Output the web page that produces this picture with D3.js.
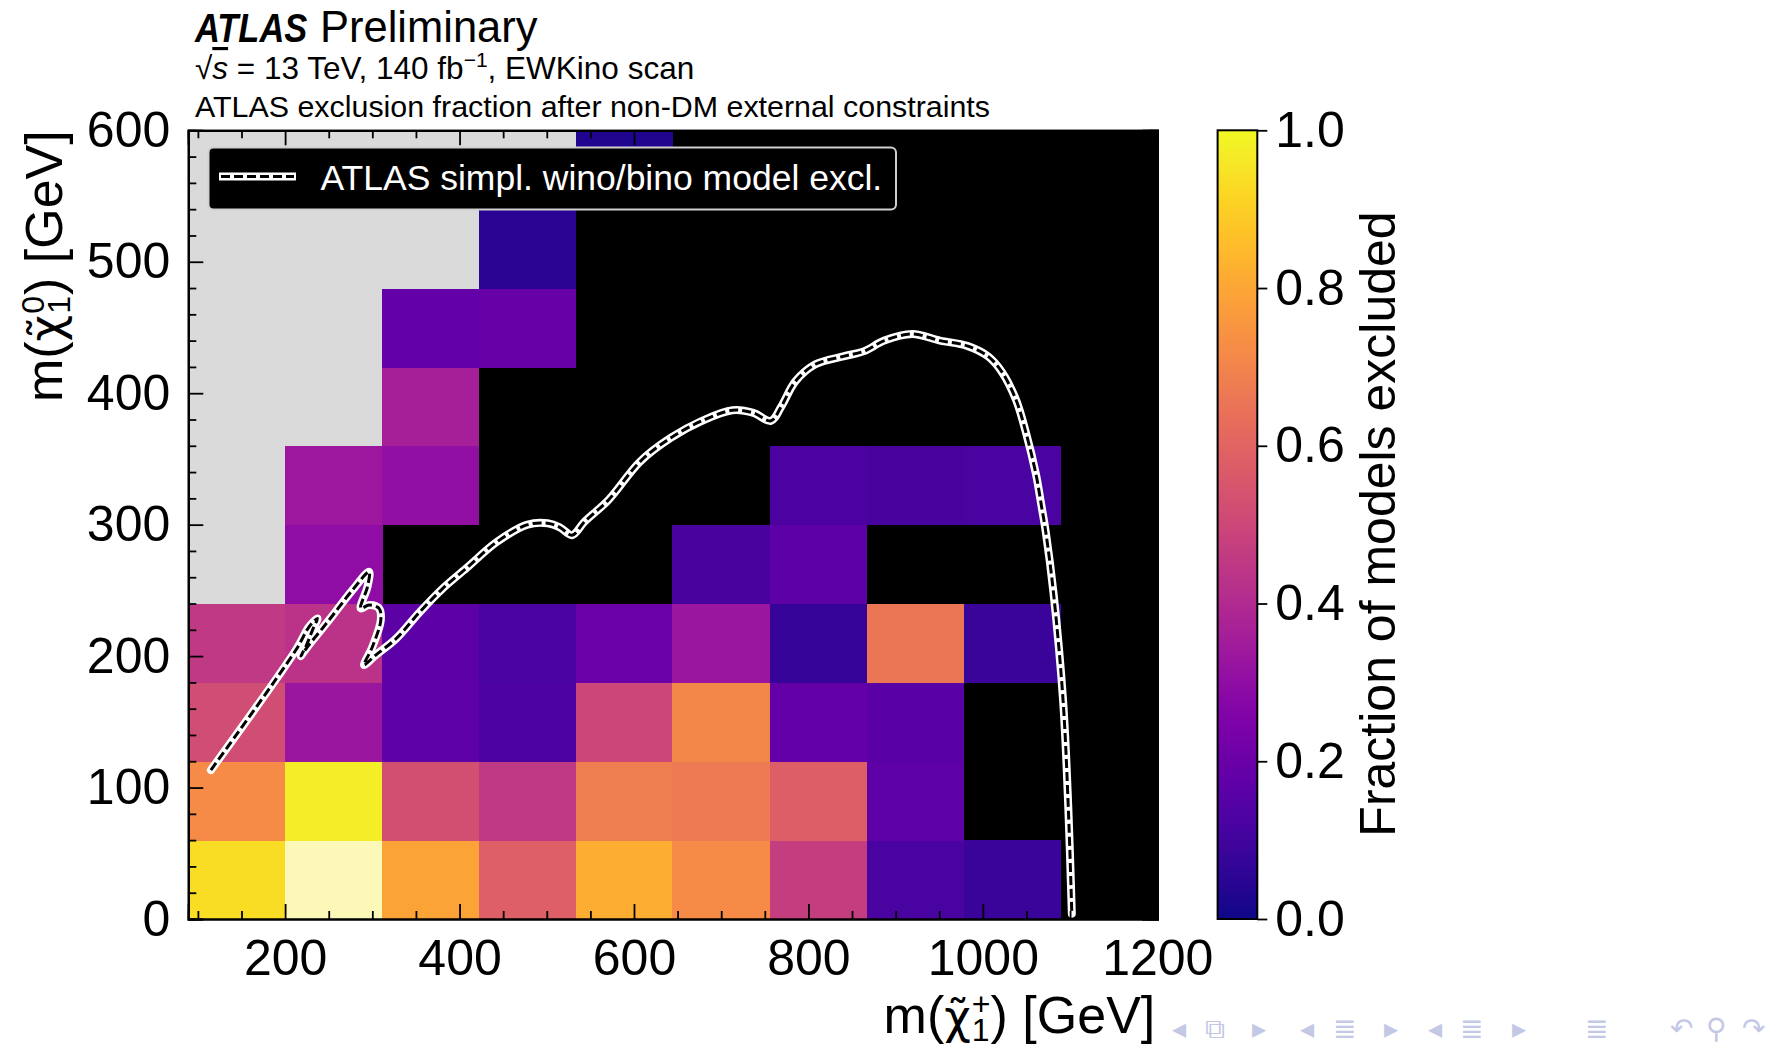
<!DOCTYPE html>
<html><head><meta charset="utf-8">
<script src="https://cdn.jsdelivr.net/npm/d3@7"></script>
<style>
body{margin:0;background:#fff;}
svg{display:block;font-family:"Liberation Sans",Arial,Helvetica,sans-serif;}
</style>
</head><body>
<svg id="chart" width="1776" height="1050"></svg>
<script>
// ---------------- data ----------------
const xEdges = [89, 200, 311, 422, 533, 644, 756, 867, 978, 1089, 1200];   // m(chargino) bin edges [GeV]
const yEdges = [0, 60, 120, 180, 240, 300, 360, 420, 480, 540, 600];         // m(neutralino) bin edges [GeV]
// fraction of models excluded; rows from bottom (0-60 GeV) to top; null = no models, "F" = m(chi0) > m(chi+)
const row0 = [0.93, 1.00, 0.79, 0.585, 0.82, 0.72, 0.47, 0.12, 0.085, null];
const row1 = [0.72, 0.97, 0.53, 0.45, 0.68, 0.67, 0.58, 0.17, null, null];
const row2 = [0.52, 0.33, 0.17, 0.125, 0.50, 0.71, 0.18, 0.16, null, null];
const row3 = [0.45, 0.43, 0.165, 0.12, 0.20, 0.33, 0.075, 0.66, 0.085, null];
const row4 = ["F", 0.30, null, null, null, 0.115, 0.165, null, null, null];
const row5 = ["F", 0.335, 0.305, null, null, null, 0.125, 0.115, 0.118, null];
const row6 = ["F", "F", 0.36, null, null, null, null, null, null, null];
const row7 = ["F", "F", 0.185, 0.19, null, null, null, null, null, null];
const row8 = ["F", "F", "F", 0.05, null, null, null, null, null, null];
const row9 = ["F", "F", "F", "F", 0.03, null, null, null, null, null];
const fractionRows = [row0, row1, row2, row3, row4, row5, row6, row7, row8, row9];

// ATLAS simplified wino/bino model exclusion contour [m(chi+), m(chi0)]
const contour = [[114.9,113.3],[212.3,204.6],[227.5,222.3],[237.1,228.7],[231.4,219.8],[223.7,207.1],[218.0,200.0],
 [225.7,207.1],[250.4,227.4],[277.2,250.2],[296.3,264.1],[294.4,252.7],[286.7,236.3],[296.3,238.8],[307.7,236.3],
 [309.7,227.4],[300.1,207.1],[290.5,193.2],[303.9,200.8],[326.8,213],[355,234],[380,251],[408,267],[443,287],
 [478,300],[501,301],[515,298],[529,292],[543,302],[571,319],[607,348],[642,366],[678,379],[713,387],[737,385],
 [757,379],[769,390],[785,409],[808,422],[840,428],[864,432],[887,440],[919,445],[951,440],[982,436],[1006,428],
 [1022,416],[1038,395],[1049,371],[1061,338],[1067,315],[1072,295],[1081,248],[1092,166],[1098,84],[1102,4]];

const xMajorTicks = [200, 400, 600, 800, 1000, 1200];
const yMajorTicks = [0, 100, 200, 300, 400, 500, 600];
const cbTicks = [0, 0.2, 0.4, 0.6, 0.8, 1.0];
const legendLabel = "ATLAS simpl. wino/bino model excl.";
const colorbarLabel = "Fraction of models excluded";

// ---------------- layout ----------------
const svg = d3.select("#chart");
const L = 188.3, R = 1157.3, T = 130.3, B = 919;
const x = d3.scaleLinear().domain([xEdges[0], 1200]).range([L, R]);
const y = d3.scaleLinear().domain([0, 600]).range([B, T]);
const color = v => v >= 1 ? "#fcf9b8" : d3.interpolatePlasma(v);
const GREY = "#dadada";

// plot background (no models)
svg.append("rect").attr("x", L).attr("y", T).attr("width", R - L).attr("height", B - T).attr("fill", "#000");

const cells = [];
fractionRows.forEach((row, j) => row.forEach((v, i) => {
  if (v !== null) cells.push({i, j, v});
}));
svg.append("g").attr("shape-rendering", "crispEdges").selectAll("rect").data(cells).join("rect")
  .attr("x", d => x(xEdges[d.i]))
  .attr("y", d => y(yEdges[d.j + 1]))
  .attr("width", d => x(xEdges[d.i + 1]) - x(xEdges[d.i]) + 0.6)
  .attr("height", d => y(yEdges[d.j]) - y(yEdges[d.j + 1]) + 0.6)
  .attr("fill", d => d.v === "F" ? GREY : color(d.v));

// clip
svg.append("clipPath").attr("id", "clip").append("rect")
  .attr("x", L).attr("y", T).attr("width", R - L).attr("height", B - T);

// contour
const line = d3.line().x(d => x(d[0])).y(d => y(d[1])).curve(d3.curveCatmullRom.alpha(0.5));
const cg = svg.append("g").attr("clip-path", "url(#clip)");
cg.append("path").attr("d", line(contour)).attr("fill", "none").attr("stroke", "#fff")
  .attr("stroke-width", 8).attr("stroke-linejoin", "round").attr("stroke-linecap", "round");
cg.append("path").attr("d", line(contour)).attr("fill", "none").attr("stroke", "#000")
  .attr("stroke-width", 3).attr("stroke-dasharray", "9,4");

// ---------------- axes ----------------
const majorLen = 15, minorLen = 8;
const xMinor = d3.range(100, 1201, 50).filter(v => !xMajorTicks.includes(v));
const yMinor = d3.range(0, 601, 20).filter(v => !yMajorTicks.includes(v));

function styleAxis(g) {
  g.selectAll("path.domain").attr("stroke", "#000").attr("stroke-width", 2.2);
  g.selectAll(".tick line").attr("stroke", "#000").attr("stroke-width", 1.8);
  g.selectAll(".tick text").attr("font-size", 50).attr("fill", "#000")
    .attr("font-family", "'Liberation Sans',Arial,sans-serif");
}
// bottom
svg.append("g").attr("transform", `translate(0,${B})`)
  .call(d3.axisBottom(x).tickValues(xMinor).tickSize(-minorLen).tickFormat(""))
  .call(styleAxis);
svg.append("g").attr("transform", `translate(0,${B})`)
  .call(d3.axisBottom(x).tickValues(xMajorTicks).tickSize(-majorLen).tickPadding(20).tickFormat(d3.format("d")))
  .call(styleAxis);
// top
svg.append("g").attr("transform", `translate(0,${T})`)
  .call(d3.axisTop(x).tickValues(xMinor).tickSize(-minorLen).tickFormat("")).call(styleAxis);
svg.append("g").attr("transform", `translate(0,${T})`)
  .call(d3.axisTop(x).tickValues(xMajorTicks).tickSize(-majorLen).tickFormat("")).call(styleAxis);
// left
svg.append("g").attr("transform", `translate(${L},0)`)
  .call(d3.axisLeft(y).tickValues(yMinor).tickSize(-minorLen).tickFormat("")).call(styleAxis);
svg.append("g").attr("transform", `translate(${L},0)`)
  .call(d3.axisLeft(y).tickValues(yMajorTicks).tickSize(-majorLen).tickPadding(18).tickFormat(d3.format("d")))
  .call(styleAxis);
// right
svg.append("g").attr("transform", `translate(${R},0)`)
  .call(d3.axisRight(y).tickValues(yMinor).tickSize(-minorLen).tickFormat("")).call(styleAxis);
svg.append("g").attr("transform", `translate(${R},0)`)
  .call(d3.axisRight(y).tickValues(yMajorTicks).tickSize(-majorLen).tickFormat("")).call(styleAxis);

// ---------------- legend ----------------
const lg = svg.append("g");
lg.append("rect").attr("x", 208.5).attr("y", 147.5).attr("width", 687.5).attr("height", 62)
  .attr("rx", 5).attr("fill", "#000").attr("stroke", "#d0d0d0").attr("stroke-width", 2);
lg.append("line").attr("x1", 219).attr("x2", 296).attr("y1", 176.5).attr("y2", 176.5)
  .attr("stroke", "#fff").attr("stroke-width", 8);
lg.append("line").attr("x1", 221).attr("x2", 294).attr("y1", 176.5).attr("y2", 176.5)
  .attr("stroke", "#000").attr("stroke-width", 3).attr("stroke-dasharray", "9,4");
lg.append("text").attr("x", 320.5).attr("y", 189.5).attr("font-size", 35.5).attr("fill", "#fff")
  .text(legendLabel);

// ---------------- colorbar ----------------
const cbL = 1217.6, cbR = 1257.3;
const cy = d3.scaleLinear().domain([0, 1]).range([B, T]);
const grad = svg.append("defs").append("linearGradient").attr("id", "plasma")
  .attr("x1", 0).attr("y1", 1).attr("x2", 0).attr("y2", 0);
d3.range(0, 1.0001, 0.02).forEach(t => grad.append("stop").attr("offset", t).attr("stop-color", d3.interpolatePlasma(t)));
svg.append("rect").attr("x", cbL).attr("y", T).attr("width", cbR - cbL).attr("height", B - T)
  .attr("fill", "url(#plasma)").attr("stroke", "#000").attr("stroke-width", 2);
svg.append("g").attr("transform", `translate(${cbR},0)`)
  .call(d3.axisRight(cy).tickValues(cbTicks).tickSize(10).tickPadding(8).tickFormat(d3.format(".1f")))
  .call(styleAxis).call(g => g.select("path.domain").remove());
svg.append("text").attr("transform", `translate(1395,524) rotate(-90)`).attr("text-anchor", "middle")
  .attr("font-size", 50).attr("fill", "#000").text(colorbarLabel);

// ---------------- navigation symbols (beamer) ----------------
const nav = svg.append("g").attr("fill", "#c3c8e4").attr("font-family", "DejaVu Sans").attr("font-size", 28);
[["◂",1172],["⧉",1205],["▸",1252],["◂",1300],["≣",1333],["▸",1384],
 ["◂",1428],["≣",1460],["▸",1512],["≣",1585],["↶",1670],["⚲",1706],["↷",1742]].forEach(([s, px]) =>
  nav.append("text").attr("x", px).attr("y", 1038).text(s));

// ---------------- axis titles ----------------
function massLabel(sel, sup) {
  sel.append("tspan").text("m(");
  sel.append("tspan").attr("font-family", "'DejaVu Sans'").attr("font-size", 46).text("χ\u0303");
  sel.append("tspan").attr("font-size", 32).attr("dx", 1).attr("dy", -18).text(sup);
  sel.append("tspan").attr("font-size", 32).attr("dx", sup === "+" ? -18.7 : -17.8).attr("dy", 26).text("1");
  sel.append("tspan").attr("dx", 1).attr("dy", -8).text(") [GeV]");
}
const xt = svg.append("text").attr("x", R - 2).attr("y", 1033).attr("text-anchor", "end")
  .attr("font-size", 52).attr("fill", "#000");
massLabel(xt, "+");
const yt = svg.append("text").attr("transform", `translate(62,${T}) rotate(-90)`).attr("text-anchor", "end")
  .attr("font-size", 52).attr("fill", "#000");
massLabel(yt, "0");

// ---------------- header ----------------
svg.append("text").attr("transform", "translate(195,41.5) scale(0.84,1)").attr("font-size", 41)
  .attr("font-weight", "bold").attr("font-style", "italic").text("ATLAS");
svg.append("text").attr("x", 320).attr("y", 41.5).attr("font-size", 43.5).text("Preliminary");
const l2 = svg.append("text").attr("x", 195).attr("y", 79).attr("font-size", 31.5);
l2.append("tspan").text("√");
l2.append("tspan").attr("font-style", "italic").attr("text-decoration", "overline").text("s");
l2.append("tspan").text(" = 13 TeV, 140 fb");
l2.append("tspan").attr("font-size", 21).attr("dy", -12).text("−1");
l2.append("tspan").attr("dy", 12).text(", EWKino scan");
svg.append("text").attr("x", 195).attr("y", 116.5).attr("font-size", 30.4)
  .text("ATLAS exclusion fraction after non-DM external constraints");
</script>
</body></html>
